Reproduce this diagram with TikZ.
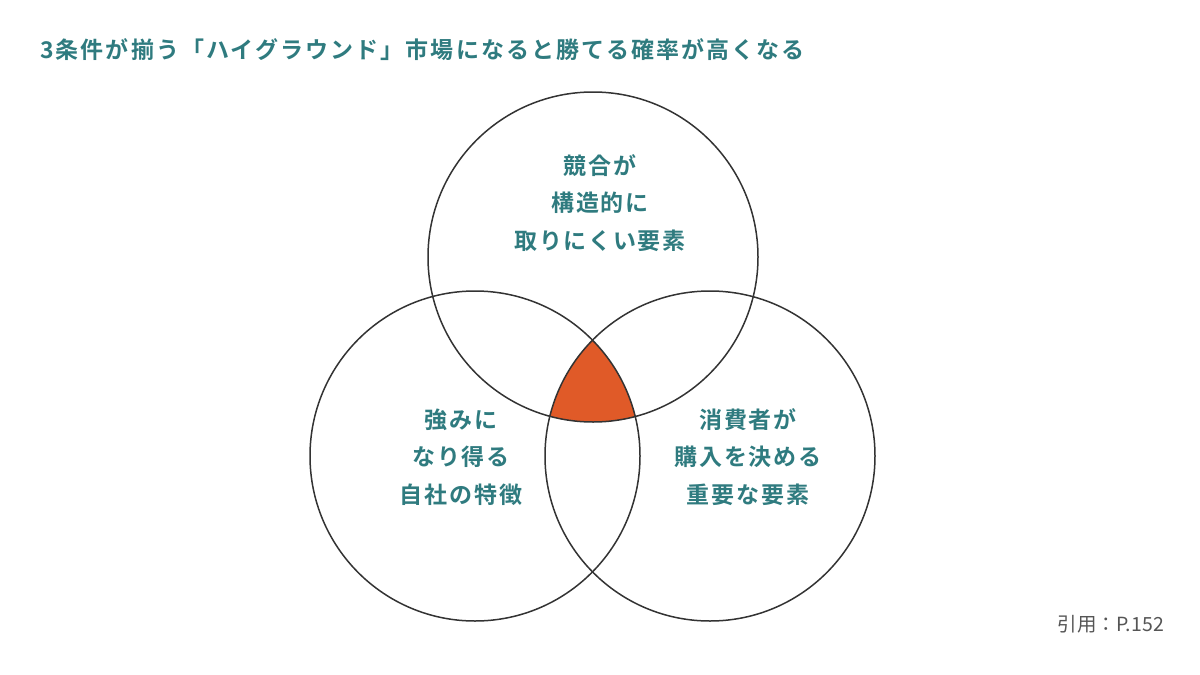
\documentclass[tikz,border=0pt]{standalone}
\usepackage{fontspec}
\newfontfamily\jpb[LetterSpace=8]{Noto Sans CJK JP Bold}
\newfontfamily\jpt[LetterSpace=9]{Noto Sans CJK JP Bold}
\newfontfamily\jpr{Noto Sans CJK JP}
\definecolor{teal1}{HTML}{2F7B7F}
\definecolor{ring}{HTML}{333333}
\definecolor{core}{HTML}{E05A28}
\definecolor{cite}{HTML}{555555}
\tikzset{
  ring/.style={draw=ring, line width=1.5pt},
  lbl/.style={text=teal1, align=center, font=\jpb\fontsize{23}{37.5}\selectfont, inner sep=0pt},
}
\begin{document}
\begin{tikzpicture}[x=1pt,y=-1pt]
\useasboundingbox (0,0) rectangle (1200,675);
\begin{scope}
  \clip (593,257) circle (165);
  \clip (475,456) circle (165);
  \fill[core] (710,456) circle (165);
\end{scope}
\node[ring, circle, minimum size=330pt, inner sep=0pt] (cA) at (593,257) {};
\node[ring, circle, minimum size=330pt, inner sep=0pt] (cB) at (475,456) {};
\node[ring, circle, minimum size=330pt, inner sep=0pt] (cC) at (710,456) {};
\node[anchor=west, text=teal1, font=\jpt\fontsize{23}{25}\selectfont, inner sep=0pt] (title) at (40,50) {3条件が揃う「ハイグラウンド」市場になると勝てる確率が高くなる};
\node[lbl] (tA) at (600,203) {競合が\\構造的に\\取りにくい要素};
\node[lbl] (tB) at (461,457) {強みに\\なり得る\\自社の特徴};
\node[lbl] (tC) at (748,457) {消費者が\\購入を決める\\重要な要素};
\node[anchor=east, text=cite, font=\jpr\fontsize{19.5}{22}\selectfont, inner sep=0pt] (ref) at (1164,624) {引用：P.152};
\end{tikzpicture}
\end{document}
